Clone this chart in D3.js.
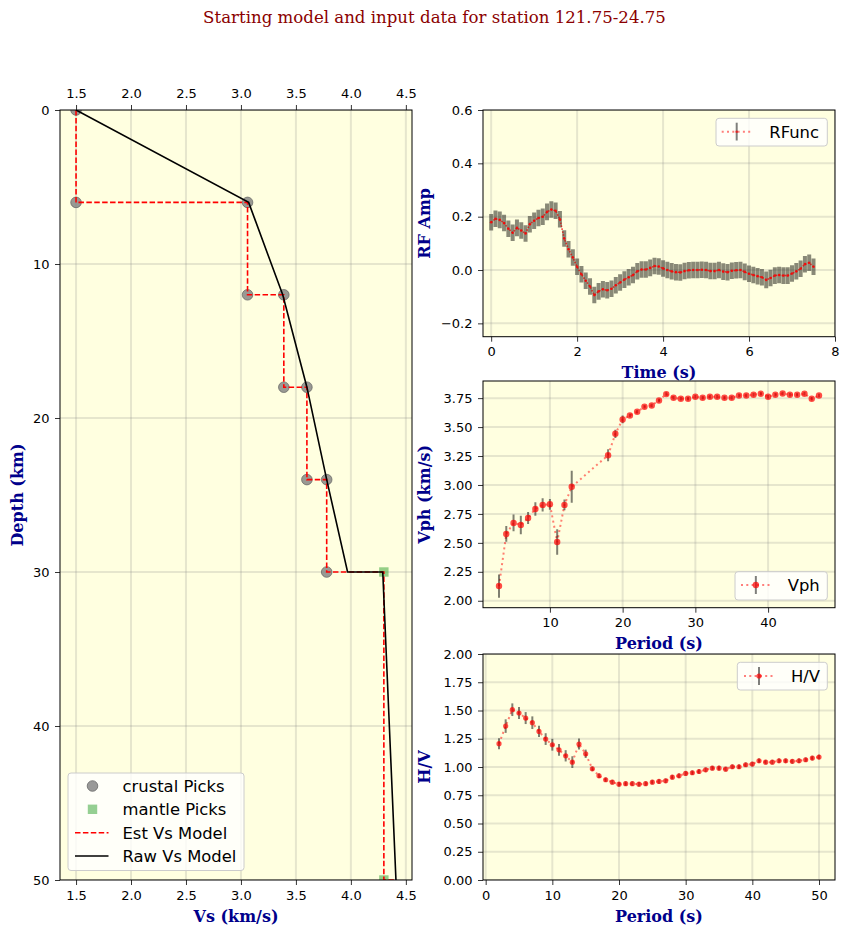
<!DOCTYPE html>
<html><head><meta charset="utf-8">
<script src="https://cdn.jsdelivr.net/npm/d3@7"></script>
<style>body{margin:0;background:#fff}svg text{font-family:"DejaVu Sans",sans-serif}</style>
</head><body><svg id="c" width="849" height="936"></svg>
<script>
// ---------------- data ----------------
const titleText = "Starting model and input data for station 121.75-24.75";
// left panel: velocity model
const crustVs    = [1.5, 1.5, 3.06, 3.06, 3.39, 3.39, 3.60, 3.60, 3.78, 3.78];
const crustDepth = [0, 6, 6, 12, 12, 18, 18, 24, 24, 30];
const mantleVs    = [4.30, 4.30];
const mantleDepth = [30, 50];
const estVs    = [1.5, 1.5, 3.06, 3.06, 3.39, 3.39, 3.60, 3.60, 3.78, 3.78, 4.30, 4.30, 4.41];
const estDepth = [0, 6, 6, 12, 12, 18, 18, 24, 24, 30, 30, 50, 50];
const rawVs    = [1.5, 3.07, 3.38, 3.60, 3.78, 3.97, 4.29, 4.41];
const rawDepth = [0, 6, 12, 18, 24, 30, 30, 50];
const vsTicks = [1.5, 2.0, 2.5, 3.0, 3.5, 4.0, 4.5];
const depthTicks = [0, 10, 20, 30, 40, 50];
const modelLegend = ["crustal Picks", "mantle Picks", "Est Vs Model", "Raw Vs Model"];

// receiver function
const rfTime = [0,0.1,0.2,0.3,0.4,0.5,0.6,0.7,0.8,0.9,1.0,1.1,1.2,1.3,1.4,1.5,1.6,1.7,1.8,1.9,
  2.0,2.1,2.2,2.3,2.4,2.5,2.6,2.7,2.8,2.9,3.0,3.1,3.2,3.3,3.4,3.5,3.6,3.7,3.8,3.9,
  4.0,4.1,4.2,4.3,4.4,4.5,4.6,4.7,4.8,4.9,5.0,5.1,5.2,5.3,5.4,5.5,5.6,5.7,5.8,5.9,
  6.0,6.1,6.2,6.3,6.4,6.5,6.6,6.7,6.8,6.9,7.0,7.1,7.2,7.3,7.4,7.5];
const rfAmp = [0.179,0.192,0.188,0.176,0.155,0.140,0.158,0.148,0.137,0.172,
  0.185,0.195,0.200,0.218,0.227,0.222,0.190,0.118,0.078,0.047,
  0.012,-0.016,-0.040,-0.062,-0.094,-0.080,-0.072,-0.076,-0.070,-0.057,
  -0.047,-0.036,-0.027,-0.019,-0.005,0.002,0.002,0.008,0.015,0.013,
  0.006,0.000,-0.005,-0.008,-0.009,-0.004,-0.001,0.000,0.000,0.001,
  0.000,-0.004,-0.004,0.000,-0.006,-0.008,-0.003,-0.001,0.000,-0.007,
  -0.014,-0.019,-0.023,-0.027,-0.037,-0.030,-0.021,-0.019,-0.021,-0.021,
  -0.013,-0.005,0.005,0.022,0.027,0.012];
const rfErr = 0.031;
const rfXTicks = [0, 2, 4, 6, 8];
const rfYTicks = [-0.2, 0.0, 0.2, 0.4, 0.6];

// phase velocity
const vphPeriod = [3,4,5,6,7,8,9,10,11,12,13,18,19,20,21,22,23,24,25,26,27,28,29,30,31,32,33,34,35,36,37,38,39,40,41,42,43,44,45,46,47];
const vphVal = [2.127,2.577,2.672,2.655,2.715,2.793,2.828,2.833,2.508,2.828,2.984,3.257,3.442,3.566,3.600,3.632,3.675,3.687,3.730,3.785,
  3.753,3.745,3.745,3.762,3.753,3.762,3.762,3.753,3.753,3.773,3.773,3.779,3.788,3.762,3.779,3.790,3.779,3.779,3.788,3.745,3.773];
const vphErr = [0.100,0.068,0.072,0.080,0.052,0.058,0.058,0.046,0.110,0.046,0.138,0.052,0.036,0.033,0.015,0.015,0.015,0.015,0.015,0.015,
  0.015,0.015,0.015,0.015,0.015,0.015,0.015,0.015,0.015,0.015,0.015,0.015,0.015,0.015,0.015,0.015,0.015,0.015,0.015,0.015,0.015];
const vphXTicks = [10, 20, 30, 40];
const vphYTicks = [2.00, 2.25, 2.50, 2.75, 3.00, 3.25, 3.50, 3.75];

// H/V ratio
const hvPeriod = [2,3,4,5,6,7,8,9,10,11,12,13,14,15,16,17,18,19,20,21,22,23,24,25,26,27,28,29,30,31,32,33,34,35,36,37,38,39,40,41,42,43,44,45,46,47,48,49,50];
const hvVal = [1.206,1.362,1.507,1.478,1.433,1.392,1.315,1.247,1.197,1.152,1.099,1.043,1.203,1.117,
  0.984,0.922,0.887,0.866,0.848,0.852,0.852,0.848,0.852,0.866,0.872,0.878,0.910,0.922,0.943,
  0.949,0.960,0.975,0.990,0.990,0.981,1.002,1.002,1.020,1.026,1.055,1.043,1.043,1.055,1.055,
  1.049,1.055,1.064,1.079,1.088];
const hvErr = [0.049,0.060,0.056,0.053,0.053,0.056,0.049,0.052,0.052,0.052,0.050,0.052,0.049,0.037,
  0.020,0.020,0.020,0.020,0.020,0.020,0.020,0.020,0.020,0.020,0.020,0.020,0.020,0.020,0.020,
  0.020,0.020,0.020,0.020,0.020,0.020,0.020,0.020,0.020,0.020,0.020,0.020,0.020,0.020,0.020,
  0.020,0.020,0.020,0.020,0.020];
const hvXTicks = [0, 10, 20, 30, 40, 50];
const hvYTicks = [0.00, 0.25, 0.50, 0.75, 1.00, 1.25, 1.50, 1.75, 2.00];

// ---------------- drawing ----------------
const svg = d3.select("#c");
const defs = svg.append("defs");
const LABEL_COLOR = "#00008b";
const BG = "#ffffe0";
const LEG_FS = "16.4px";

function addPanel(cfg) {
  const x = d3.scaleLinear().domain(cfg.xd).range([cfg.x0, cfg.x1]);
  const y = d3.scaleLinear().domain(cfg.yd).range(cfg.invertY ? [cfg.y0, cfg.y1] : [cfg.y1, cfg.y0]);
  const g = svg.append("g");
  g.append("rect").attr("x", cfg.x0).attr("y", cfg.y0)
    .attr("width", cfg.x1 - cfg.x0).attr("height", cfg.y1 - cfg.y0).attr("fill", BG);
  const cid = "clip-" + cfg.id;
  defs.append("clipPath").attr("id", cid).append("rect")
    .attr("x", cfg.x0).attr("y", cfg.y0).attr("width", cfg.x1 - cfg.x0).attr("height", cfg.y1 - cfg.y0);
  const grid = g.append("g").attr("stroke", "#808080").attr("stroke-opacity", 0.2).attr("stroke-width", 2)
    .attr("clip-path", `url(#${cid})`);
  grid.append("g").selectAll("line").data(cfg.xticks).join("line")
    .attr("x1", d => x(d)).attr("x2", d => x(d)).attr("y1", cfg.y0).attr("y2", cfg.y1);
  grid.append("g").selectAll("line").data(cfg.yticks).join("line")
    .attr("y1", d => y(d)).attr("y2", d => y(d)).attr("x1", cfg.x0).attr("x2", cfg.x1);
  const plot = g.append("g").attr("clip-path", `url(#${cid})`);
  return { x, y, g, plot, cfg };
}

function styleAxis(sel) {
  sel.select(".domain").remove();
  sel.selectAll(".tick line").attr("stroke", "#000").attr("stroke-width", 0.8);
  sel.selectAll(".tick text").attr("fill", "#000").style("font-size", "13px")
    .style("font-family", "'DejaVu Sans', sans-serif");
}

function finishPanel(p) {
  const { cfg, x, y, g } = p;
  const ax = g.append("g");
  ax.append("g").attr("transform", `translate(0,${cfg.y1})`)
    .call(d3.axisBottom(x).tickValues(cfg.xticks).tickFormat(cfg.xfmt).tickSize(5).tickPadding(5.5))
    .call(styleAxis);
  if (cfg.top) {
    ax.append("g").attr("transform", `translate(0,${cfg.y0})`)
      .call(d3.axisTop(x).tickValues(cfg.xticks).tickFormat(cfg.xfmt).tickSize(5).tickPadding(7))
      .call(styleAxis);
  }
  ax.append("g").attr("transform", `translate(${cfg.x0},0)`)
    .call(d3.axisLeft(y).tickValues(cfg.yticks).tickFormat(cfg.yfmt).tickSize(5).tickPadding(5.5))
    .call(styleAxis);
  g.append("rect").attr("x", cfg.x0).attr("y", cfg.y0)
    .attr("width", cfg.x1 - cfg.x0).attr("height", cfg.y1 - cfg.y0)
    .attr("fill", "none").attr("stroke", "#000").attr("stroke-width", 1);
  // axis labels
  g.append("text").attr("x", (cfg.x0 + cfg.x1) / 2).attr("y", cfg.y1 + cfg.xlabDy)
    .attr("text-anchor", "middle").attr("fill", LABEL_COLOR)
    .style("font-family", "'DejaVu Serif', serif").style("font-weight", "bold").style("font-size", "16px")
    .text(cfg.xlabel);
  g.append("text").attr("transform", `translate(${cfg.ylabX},${(cfg.y0 + cfg.y1) / 2}) rotate(-90)`)
    .attr("text-anchor", "middle").attr("fill", LABEL_COLOR)
    .style("font-family", "'DejaVu Serif', serif").style("font-weight", "bold").style("font-size", "16px")
    .text(cfg.ylabel);
}

function legendBox(g, x0, y0, x1, y1) {
  g.append("rect").attr("x", x0).attr("y", y0).attr("width", x1 - x0).attr("height", y1 - y0)
    .attr("rx", 3).attr("fill", "#fff").attr("fill-opacity", 0.8)
    .attr("stroke", "#cccccc").attr("stroke-width", 1);
}
function legendText(g, x, y, t) {
  g.append("text").attr("x", x).attr("y", y).attr("dy", "0.36em").attr("fill", "#000")
    .style("font-size", LEG_FS).text(t);
}

// title
svg.append("text").attr("x", 434.5).attr("y", 23).attr("text-anchor", "middle")
  .attr("fill", "#8b0000").style("font-family", "'DejaVu Serif', serif").style("font-size", "16.6px")
  .text(titleText);

// ---------- left: model ----------
{
  const p = addPanel({ id: "model", x0: 60, x1: 412, y0: 110, y1: 880, xd: [1.354, 4.556], yd: [0, 50],
    invertY: true, xticks: vsTicks, yticks: depthTicks, xfmt: d3.format(".1f"), yfmt: d3.format("d"),
    top: true, xlabel: "Vs (km/s)", ylabel: "Depth (km)", xlabDy: 42, ylabX: 23 });
  const { x, y, plot } = p;
  const crust = crustVs.map((v, i) => [v, crustDepth[i]]);
  const mantle = mantleVs.map((v, i) => [v, mantleDepth[i]]);
  const est = estVs.map((v, i) => [v, estDepth[i]]);
  const raw = rawVs.map((v, i) => [v, rawDepth[i]]);
  plot.append("g").selectAll("circle").data(crust).join("circle")
    .attr("cx", d => x(d[0])).attr("cy", d => y(d[1])).attr("r", 5.3)
    .attr("fill", "#808080").attr("fill-opacity", 0.8).attr("stroke", "#606060").attr("stroke-opacity", 0.7);
  plot.append("g").selectAll("rect").data(mantle).join("rect")
    .attr("x", d => x(d[0]) - 4.7).attr("y", d => y(d[1]) - 4.7).attr("width", 9.4).attr("height", 9.4)
    .attr("fill", "#2ca02c").attr("fill-opacity", 0.5);
  const line = d3.line().x(d => x(d[0])).y(d => y(d[1]));
  plot.append("path").attr("d", line(est)).attr("fill", "none").attr("stroke", "#ff0000")
    .attr("stroke-width", 1.6).attr("stroke-dasharray", "5.5,2.4");
  plot.append("path").attr("d", line(raw)).attr("fill", "none").attr("stroke", "#000").attr("stroke-width", 1.6);
  finishPanel(p);
  // legend
  const lg = p.g.append("g");
  legendBox(lg, 68, 773, 244, 870.5);
  const ys = [786, 809.3, 832.7, 856];
  lg.append("circle").attr("cx", 92.5).attr("cy", ys[0]).attr("r", 5.3).attr("fill", "#808080")
    .attr("fill-opacity", 0.8).attr("stroke", "#606060").attr("stroke-opacity", 0.7);
  lg.append("rect").attr("x", 92.5 - 4.7).attr("y", ys[1] - 4.7).attr("width", 9.4).attr("height", 9.4)
    .attr("fill", "#2ca02c").attr("fill-opacity", 0.5);
  lg.append("line").attr("x1", 75).attr("x2", 108.5).attr("y1", ys[2]).attr("y2", ys[2])
    .attr("stroke", "#ff0000").attr("stroke-width", 1.6).attr("stroke-dasharray", "5.5,2.4");
  lg.append("line").attr("x1", 75).attr("x2", 108.5).attr("y1", ys[3]).attr("y2", ys[3])
    .attr("stroke", "#000").attr("stroke-width", 1.6);
  modelLegend.forEach((t, i) => legendText(lg, 122.5, ys[i], t));
}

// generic errorbar series
function drawSeries(p, xs, vs, errs, opt) {
  const { x, y, plot } = p;
  const pts = xs.map((t, i) => ({ t, v: vs[i], e: Array.isArray(errs) ? errs[i] : errs }));
  plot.append("path").attr("d", d3.line().x(d => x(d.t)).y(d => y(d.v))(pts))
    .attr("fill", "none").attr("stroke", "#ff0000").attr("stroke-opacity", 0.5)
    .attr("stroke-width", opt.lw).attr("stroke-dasharray", opt.dash);
  plot.append("g").selectAll("line").data(pts).join("line")
    .attr("x1", d => x(d.t)).attr("x2", d => x(d.t))
    .attr("y1", d => y(d.v - d.e)).attr("y2", d => y(d.v + d.e))
    .attr("stroke", opt.ecolor).attr("stroke-opacity", opt.eop).attr("stroke-width", opt.ew);
  if (opt.relayLine) {
    plot.append("path").attr("d", d3.line().x(d => x(d.t)).y(d => y(d.v))(pts))
      .attr("fill", "none").attr("stroke", "#ff0000").attr("stroke-opacity", 0.5)
      .attr("stroke-width", opt.lw).attr("stroke-dasharray", opt.dash);
  }
  plot.append("g").selectAll("circle").data(pts).join("circle")
    .attr("cx", d => x(d.t)).attr("cy", d => y(d.v)).attr("r", opt.r)
    .attr("fill", "#ff0000").attr("fill-opacity", opt.mop);
}
function seriesLegend(p, box, hx0, hx1, cy, ey0, ey1, r, label, tx) {
  const lg = p.g.append("g");
  legendBox(lg, box[0], box[1], box[2], box[3]);
  const mx = (hx0 + hx1) / 2;
  lg.append("line").attr("x1", hx0).attr("x2", hx1).attr("y1", cy).attr("y2", cy)
    .attr("stroke", "#ff0000").attr("stroke-opacity", 0.5).attr("stroke-width", 2).attr("stroke-dasharray", "2,3.3");
  lg.append("line").attr("x1", mx).attr("x2", mx).attr("y1", ey0).attr("y2", ey1)
    .attr("stroke", "#000").attr("stroke-opacity", 0.5).attr("stroke-width", 2);
  lg.append("circle").attr("cx", mx).attr("cy", cy).attr("r", r).attr("fill", "#ff0000").attr("fill-opacity", 0.7);
  legendText(lg, tx, cy, label);
}

// ---------- RF ----------
{
  const p = addPanel({ id: "rf", x0: 483, x1: 835, y0: 110, y1: 336.7, xd: [-0.19, 8.0], yd: [-0.25, 0.6],
    xticks: rfXTicks, yticks: rfYTicks, xfmt: d3.format("d"), yfmt: d3.format(".1f"),
    xlabel: "Time (s)", ylabel: "RF Amp", xlabDy: 41, ylabX: 430 });
  drawSeries(p, rfTime, rfAmp, rfErr, { lw: 1.5, dash: "1.5,1.5", ecolor: "#3a3a30", eop: 0.6, ew: 4, r: 1.3, mop: 0.85, relayLine: true });
  finishPanel(p);
  seriesLegend(p, [716, 118.3, 827.3, 146], 721.7, 751.7, 131.7, 122.7, 140.5, 1.3, "RFunc", 769.3);
}

// ---------- Vph ----------
{
  const p = addPanel({ id: "vph", x0: 483, x1: 835, y0: 381, y1: 607.7, xd: [0.8, 49.2], yd: [1.94, 3.898],
    xticks: vphXTicks, yticks: vphYTicks, xfmt: d3.format("d"), yfmt: d3.format(".2f"),
    xlabel: "Period (s)", ylabel: "Vph (km/s)", xlabDy: 41, ylabX: 430 });
  drawSeries(p, vphPeriod, vphVal, vphErr, { lw: 2, dash: "2,3.3", ecolor: "#000", eop: 0.5, ew: 2, r: 3.2, mop: 0.7 });
  finishPanel(p);
  seriesLegend(p, [735, 571.7, 827.3, 600], 741, 770.7, 585, 576, 594, 3.2, "Vph", 787.7);
}

// ---------- H/V ----------
{
  const p = addPanel({ id: "hv", x0: 483, x1: 835, y0: 654, y1: 880, xd: [-0.4, 52.4], yd: [0, 2],
    xticks: hvXTicks, yticks: hvYTicks, xfmt: d3.format("d"), yfmt: d3.format(".2f"),
    xlabel: "Period (s)", ylabel: "H/V", xlabDy: 42, ylabX: 430 });
  drawSeries(p, hvPeriod, hvVal, hvErr, { lw: 2, dash: "2,3.3", ecolor: "#000", eop: 0.5, ew: 2, r: 2.6, mop: 0.7 });
  finishPanel(p);
  seriesLegend(p, [737.3, 662.3, 827.3, 690], 744, 774, 676, 667, 685, 2.6, "H/V", 791);
}
</script></body></html>
